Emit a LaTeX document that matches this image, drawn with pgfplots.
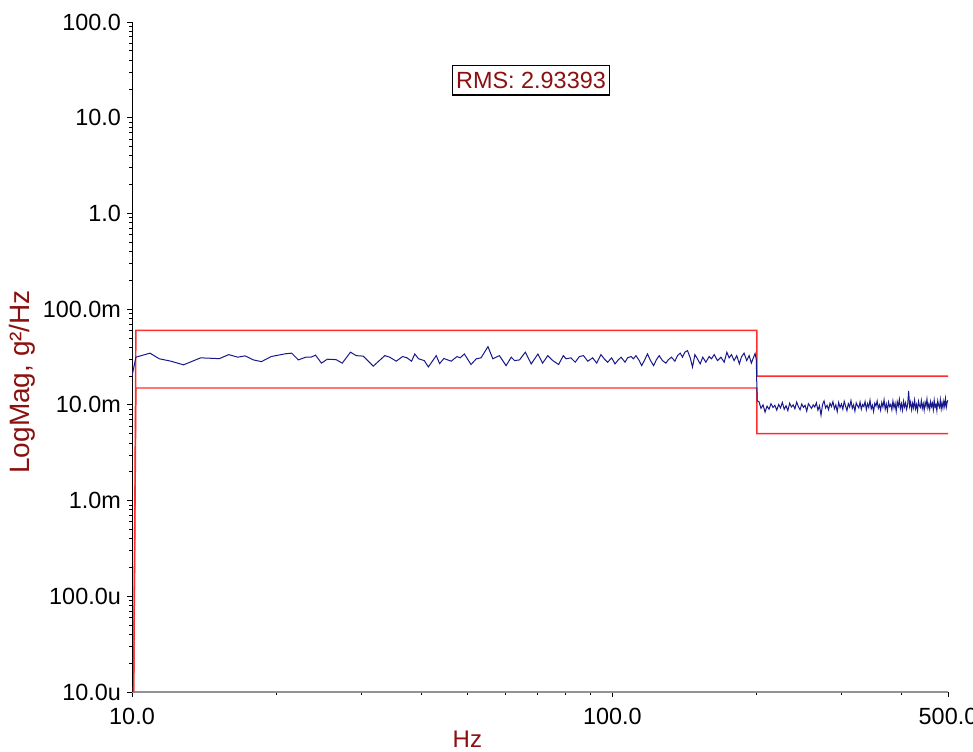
\documentclass[border=0pt]{standalone}
\usepackage{fontspec}
\setmainfont{Liberation Sans}
\usepackage{pgfplots}
\pgfplotsset{compat=1.18}
\definecolor{dred}{RGB}{139,16,16}
\definecolor{navyb}{RGB}{24,24,140}
\definecolor{lred}{RGB}{255,45,45}
\begin{document}
\fontsize{11.7}{14}\selectfont
\begin{tikzpicture}
\path[use as bounding box] (-66pt,-29.5pt) rectangle (420.5pt,346pt);
\begin{axis}[
  xmode=log, ymode=log,
  scale only axis, width=408pt, height=335pt,
  xmin=10, xmax=500, ymin=1e-5, ymax=100,
  axis x line*=bottom, axis y line*=left,
  x axis line style={-, draw=gray!85, line width=1pt},
  y axis line style={-, draw=black, line width=0.5pt},
  tick align=outside,
  major tick length=2.6pt, minor tick length=1.4pt,
  every tick/.style={black, line width=0.4pt},
  xtick={10,100,500}, xticklabels={10.0,100.0,500.0},
  minor xtick={20,30,40,50,60,70,80,90,200,300,400},
  ytick={1e-5,1e-4,1e-3,1e-2,1e-1,1,10,100},
  yticklabels={10.0u,100.0u,1.0m,10.0m,100.0m,1.0,10.0,100.0},
  minor ytick={2e-5,3e-5,4e-5,5e-5,6e-5,7e-5,8e-5,9e-5,
               2e-4,3e-4,4e-4,5e-4,6e-4,7e-4,8e-4,9e-4,
               2e-3,3e-3,4e-3,5e-3,6e-3,7e-3,8e-3,9e-3,
               2e-2,3e-2,4e-2,5e-2,6e-2,7e-2,8e-2,9e-2,
               0.2,0.3,0.4,0.5,0.6,0.7,0.8,0.9,
               2,3,4,5,6,7,8,9,20,30,40,50,60,70,80,90},
  yticklabel style={inner xsep=0pt, xshift=-2.8pt},
  xticklabel style={yshift=-1.5pt},
  ylabel={LogMag, g²/Hz},
  ylabel style={text=dred, font=\fontsize{14}{16}\selectfont, at={(axis description cs:-0.135,0.463)}, anchor=center},
  xlabel={Hz},
  xlabel style={text=dred, font=\fontsize{12}{14}\selectfont, at={(axis description cs:0.411,-0.07)}, anchor=center},
]
\addplot[lred, line width=0.7pt] coordinates {
(10.08,1e-5) (10.19,0.06) (200,0.06) (200,0.02) (500,0.02)};
\addplot[lred, line width=0.7pt] coordinates {
(10.08,1e-5) (10.19,0.015) (200,0.015) (200,0.005) (500,0.005)};
\addplot[navyb, line width=0.5pt] table {
10.0 0.0200
10.19 0.0315
10.9 0.0347
11.4 0.0303
12.05 0.0286
12.8 0.0262
13.9 0.0310
15.2 0.0304
15.9 0.0335
16.6 0.0315
17.2 0.0325
17.9 0.0295
18.6 0.0283
19.5 0.0320
20.8 0.0341
21.5 0.0347
22.2 0.0295
23.0 0.0315
23.6 0.0315
24.1 0.0331
24.8 0.0273
25.5 0.0300
26.6 0.0297
27.4 0.0273
28.5 0.0355
29.3 0.0327
30.3 0.0323
31.8 0.0254
33.6 0.0327
34.4 0.0315
35.5 0.0286
36.6 0.0320
37.4 0.0310
38.2 0.0286
38.8 0.0340
39.5 0.0303
40.6 0.0290
41.4 0.0249
43.0 0.0327
43.7 0.0270
44.6 0.0305
46.2 0.0286
47.5 0.0320
48.2 0.0310
49.2 0.0340
50.8 0.0264
52.1 0.0303
53.3 0.0310
55.1 0.0406
56.4 0.0303
58.2 0.0327
60.1 0.0257
61.6 0.0315
62.6 0.0290
64.1 0.0295
65.9 0.0355
67.8 0.0268
70.0 0.0340
71.6 0.0273
73.4 0.0327
75.2 0.0290
77.3 0.0264
79.1 0.0327
80.1 0.0303
82.0 0.0310
83.7 0.0279
85.4 0.0320
87.1 0.0327
88.9 0.0286
91.0 0.0310
92.8 0.0273
94.7 0.0335
96.2 0.0303
97.8 0.0279
99.7 0.0310
101.3 0.0268
102.9 0.0295
104.3 0.0315
106.3 0.0279
107.6 0.0310
109.4 0.0320
110.7 0.0303
112.0 0.0327
113.8 0.0290
115.1 0.0257
116.6 0.0290
118.4 0.0341
119.9 0.0295
121.9 0.0257
123.5 0.0295
125.2 0.0327
127.2 0.0290
129.3 0.0273
130.7 0.0295
132.8 0.0315
135.0 0.0286
136.7 0.0327
138.5 0.0347
140.0 0.0315
141.6 0.0355
143.4 0.0369
145.3 0.0310
146.9 0.0248
148.6 0.0335
150.4 0.0303
152.4 0.0268
154.3 0.0315
156.6 0.0279
159.1 0.0320
160.9 0.0303
163.0 0.0335
165.6 0.0290
168.3 0.0315
171.0 0.0279
173.2 0.0355
175.1 0.0310
177.1 0.0335
179.3 0.0290
181.6 0.0327
183.9 0.0268
185.7 0.0315
188.1 0.0347
190.5 0.0290
192.7 0.0327
194.8 0.0273
196.7 0.0310
198.3 0.0345
199.4 0.0300
200.3 0.0110
202 0.0108
204 0.0092
206 0.0100
208 0.0084
210 0.0097
212 0.0090
214 0.0103
216 0.0094
218 0.0099
220 0.0088
222 0.0101
224 0.0093
226 0.0106
228 0.0090
230 0.0098
232 0.0087
234 0.0104
236 0.0095
238 0.0100
240 0.0091
242 0.0107
244 0.0096
246 0.0089
248 0.0102
250 0.0094
252 0.0099
254 0.0086
256 0.0103
258 0.0097
260 0.0092
262 0.0100
264 0.0095
266 0.0105
268 0.0088
270 0.0098
272 0.0078
274 0.0101
276 0.0110
278 0.0093
280 0.0099
282 0.0089
284 0.0104
286 0.0096
288 0.0108
290 0.0091
292 0.0100
294 0.0085
296 0.0106
298 0.0094
300 0.0102
302 0.0090
304 0.0109
306 0.0097
308 0.0087
310 0.0103
312 0.0095
314 0.0111
316 0.0092
318 0.0100
320 0.0086
322 0.0105
324 0.0098
326 0.0093
328 0.0107
330 0.0090
332 0.0101
334 0.0096
336 0.0108
338 0.0089
340 0.0103
342 0.0094
344 0.0112
346 0.0091
348 0.0099
350 0.0085
352 0.0104
354 0.0097
356 0.0110
358 0.0092
360 0.0100
362 0.0088
364 0.0106
366 0.0095
368 0.0113
370 0.0090
372 0.0102
374 0.0087
376 0.0107
378 0.0096
380 0.0101
382 0.0089
384 0.0110
386 0.0093
388 0.0104
390 0.0086
392 0.0108
394 0.0097
396 0.0114
398 0.0091
400 0.0103
402 0.0088
404 0.0109
406 0.0095
408 0.0105
410 0.0090
412 0.0100
414 0.0140
416 0.0096
418 0.0107
420 0.0089
422 0.0104
424 0.0093
426 0.0112
428 0.0091
430 0.0101
432 0.0087
434 0.0109
436 0.0098
438 0.0094
440 0.0111
442 0.0092
444 0.0103
446 0.0088
448 0.0106
450 0.0097
452 0.0115
454 0.0093
456 0.0102
458 0.0090
460 0.0108
462 0.0096
464 0.0104
466 0.0089
468 0.0112
470 0.0095
472 0.0101
474 0.0087
476 0.0110
478 0.0099
480 0.0094
482 0.0113
484 0.0091
486 0.0105
488 0.0093
490 0.0109
492 0.0097
494 0.0116
496 0.0095
498 0.0107
500 0.0112
};
\node[draw=black, line width=0.6pt, text=dred, fill=white, inner xsep=1.8pt, inner ysep=3.2pt]
  at (axis description cs:0.489,0.913) {RMS: 2.93393};
\end{axis}
\end{tikzpicture}
\end{document}
